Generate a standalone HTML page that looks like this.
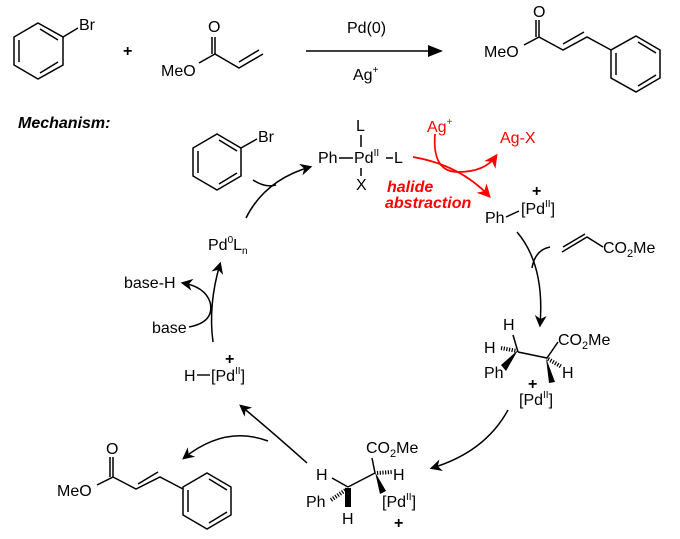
<!DOCTYPE html>
<html><head><style>
body{margin:0;background:#fff}
svg text{font-family:"Liberation Sans",sans-serif;font-size:16px;fill:#000}
</style></head><body>
<svg width="680" height="534" viewBox="0 0 680 534" xmlns="http://www.w3.org/2000/svg">
<defs>
<marker id="ah" viewBox="0 0 10 10" refX="8" refY="5" markerWidth="8" markerHeight="8" orient="auto"><path d="M0,0 L10,5 L0,10 L3,5z" fill="#000"/></marker>
<marker id="ahr" viewBox="0 0 10 10" refX="8" refY="5" markerWidth="8" markerHeight="8" orient="auto"><path d="M0,0 L10,5 L0,10 L3,5z" fill="#f00"/></marker>
</defs>
<g stroke="#000" stroke-width="1.5" fill="none">
<polygon points="38,23 63,37 63,65 38,79 14,65 14,37"/>
<path d="M19,40 L19,62 M40,29 L58,40 M40,73 L58,62 M63,37 L78,28"/>
<path d="M199,63 L215,54 L239,68 L263,54 M215,54 L215,37 M212,54 L212,37 M239,62 L259,50"/>
<line x1="306" y1="51" x2="430" y2="51" stroke-width="1.6"/>
<path d="M524,45 L539,37 L539,20 M536,37 L536,20 M539,37 L563,50 L587,37 L611,50 M563,44 L584,32"/>
<polygon points="636,36 660,50 660,78 636,92 611,78 611,50"/>
<path d="M616,53 L616,75 M638,42 L656,53 M638,86 L656,75"/>
</g>
<path d="M428,45 L443,51 L428,57z" fill="#000"/>
<text x="79" y="30">Br</text>
<text x="123" y="56" font-weight="bold">+</text>
<text x="161" y="76">MeO</text>
<text x="208" y="32">O</text>
<text x="347" y="33">Pd(0)</text>
<text x="353" y="80">Ag<tspan font-size="10" dy="-7">+</tspan></text>
<text x="484" y="57">MeO</text>
<text x="533" y="17">O</text>
<text x="18" y="128" font-weight="bold" font-style="italic" font-size="15">Mechanism:</text>

<g stroke="#000" stroke-width="1.5" fill="none">
<polygon points="217,134 241,148 241,176 217,190 193,176 193,148"/>
<path d="M198,151 L198,173 M219,140 L237,151 M219,184 L237,173 M241,148 L257,139"/>
<path d="M253,180 Q265,188 276,185"/>
<path d="M246,218 Q265,180 310,167" marker-end="url(#ah)"/>
<path d="M339,158 L353,158 M386,158 L393,158 M361,135 L361,147 M361,168 L361,176"/>
</g>
<text x="258" y="142">Br</text>
<text x="318" y="163">Ph</text>
<text x="354" y="163">Pd<tspan font-size="10" dy="-7">II</tspan></text>
<text x="394" y="163">L</text>
<text x="356" y="131">L</text>
<text x="356" y="190">X</text>
<g stroke="#f00" stroke-width="1.7" fill="none">
<path d="M413,157 Q460,165 489,196" marker-end="url(#ahr)"/>
<path d="M435,134 Q432,172 458,172 Q485,172 496,156" marker-end="url(#ahr)"/>
</g>
<text x="427" y="132" style="fill:#f00">Ag<tspan font-size="10" dy="-7">+</tspan></text>
<text x="500" y="143" style="fill:#f00">Ag-X</text>
<text x="387" y="192" font-size="13.5" font-weight="bold" font-style="italic" style="fill:#f00">halide</text>
<text x="385" y="208" font-size="13.5" font-weight="bold" font-style="italic" style="fill:#f00">abstraction</text>
<text x="485" y="223">Ph</text>
<path d="M506,217 L519,211" stroke="#000" stroke-width="1.4"/>
<text x="521" y="214">[Pd<tspan font-size="10" dy="-7">II</tspan><tspan dy="7">]</tspan></text>
<text x="532" y="196" font-weight="bold">+</text>
<g stroke="#000" stroke-width="1.5" fill="none">
<path d="M517,232 Q545,265 540,325" marker-end="url(#ah)"/>
<path d="M550,247 Q535,250 532,268"/>
<path d="M562,252 L587,237 L603,247 M563,247 L585,234"/>
</g>
<text x="603" y="253">CO<tspan font-size="11" dy="4">2</tspan><tspan dy="-4">Me</tspan></text>
<g stroke="#000" stroke-width="1.5" fill="none">
<path d="M518,352 L547,358 L558,342 M518,352 L513,335"/>
<path d="M501,348 L517,351" stroke-dasharray="1.2,1.5" stroke-width="4"/>
<path d="M548,359 L562,367" stroke-dasharray="1.2,1.5" stroke-width="4"/>
</g>
<path d="M518,350 L506,371 L501,365z M546,358 L555,382 L549,383z" fill="#000"/>
<text x="503" y="330">H</text>
<text x="484" y="353">H</text>
<text x="484" y="378">Ph</text>
<text x="558" y="345">CO<tspan font-size="11" dy="4">2</tspan><tspan dy="-4">Me</tspan></text>
<text x="562" y="378">H</text>
<text x="519" y="405">[Pd<tspan font-size="10" dy="-7">II</tspan><tspan dy="7">]</tspan></text>
<text x="528" y="389" font-weight="bold">+</text>
<g stroke="#000" stroke-width="1.5" fill="none">
<path d="M508,410 Q485,452 432,468" marker-end="url(#ah)"/>
</g>
<g stroke="#000" stroke-width="1.5" fill="none">
<path d="M348,487 L375,473 L372,458 M348,487 L332,478"/>
<path d="M377,473 L392,472" stroke-dasharray="1.2,1.5" stroke-width="4"/>
<path d="M331,500 L347,489" stroke-dasharray="1.2,1.5" stroke-width="4"/>
</g>
<path d="M345,488 L351,488 L351,507 L345,507z M375,472 L386,491 L380,494z" fill="#000"/>
<text x="366" y="453">CO<tspan font-size="11" dy="4">2</tspan><tspan dy="-4">Me</tspan></text>
<text x="316" y="480">H</text>
<text x="393" y="480">H</text>
<text x="306" y="507">Ph</text>
<text x="382" y="507">[Pd<tspan font-size="10" dy="-7">II</tspan><tspan dy="7">]</tspan></text>
<text x="342" y="524">H</text>
<text x="394" y="528" font-weight="bold">+</text>
<g stroke="#000" stroke-width="1.5" fill="none">
<path d="M307,463 Q270,430 241,406" marker-end="url(#ah)"/>
<path d="M268,441 Q225,425 184,458" marker-end="url(#ah)"/>
<path d="M97,485 L113,477 L113,457 M110,477 L110,457 M113,477 L136,489 L160,477 L183,489 M138,484 L158,472"/>
<polygon points="207,473 231,487 231,515 207,529 183,515 183,487"/>
<path d="M188,490 L188,512 M209,479 L227,490 M209,523 L227,512"/>
</g>
<text x="106" y="454">O</text>
<text x="57" y="496">MeO</text>
<text x="184" y="381">H</text>
<path d="M197,375 L210,375" stroke="#000" stroke-width="1.4"/>
<text x="211" y="381">[Pd<tspan font-size="10" dy="-7">II</tspan><tspan dy="7">]</tspan></text>
<text x="225" y="364" font-weight="bold">+</text>
<g stroke="#000" stroke-width="1.5" fill="none">
<path d="M213,342 Q208,305 220,264" marker-end="url(#ah)"/>
<path d="M189,327 Q215,322 210,302 Q205,287 183,283" marker-end="url(#ah)"/>
</g>
<text x="124" y="288">base-H</text>
<text x="152" y="333">base</text>
<text x="208" y="250">Pd<tspan font-size="10" dy="-7">0</tspan><tspan dy="7">L</tspan><tspan font-size="10" dy="4">n</tspan></text>
</svg>
</body></html>
